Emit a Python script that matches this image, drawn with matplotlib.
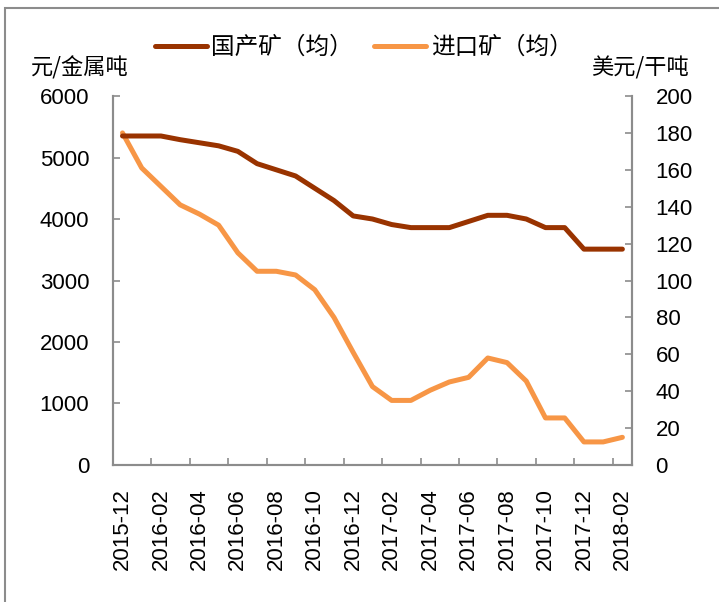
import matplotlib.pyplot as plt
from matplotlib.patches import Rectangle
import numpy as np

plt.rcParams['font.family'] = ['Liberation Sans', 'Noto Sans CJK SC', 'DejaVu Sans']

months = ["2015-12", "2016-01", "2016-02", "2016-03", "2016-04", "2016-05", "2016-06",
          "2016-07", "2016-08", "2016-09", "2016-10", "2016-11", "2016-12", "2017-01",
          "2017-02", "2017-03", "2017-04", "2017-05", "2017-06", "2017-07", "2017-08",
          "2017-09", "2017-10", "2017-11", "2017-12", "2018-01", "2018-02"]
# 国产矿（均）, 元/金属吨
domestic = [5350, 5350, 5350, 5290, 5240, 5190, 5100, 4900, 4800, 4700, 4500, 4300, 4050,
            4000, 3910, 3860, 3860, 3860, 3960, 4060, 4060, 4000, 3860, 3860, 3510, 3510, 3510]
# 进口矿（均）, 美元/干吨
imported = [180, 161, 151, 141, 136, 130, 115, 105, 105, 103, 95, 80, 61,
            42.5, 35, 35, 40.5, 45, 47.5, 58, 55.5, 45.5, 25.5, 25.5, 12.5, 12.5, 15]

c_dom = '#993300'
c_imp = '#F79646'
grey = '#8c8c8c'
cjk = ['Noto Sans CJK SC', 'DejaVu Sans']

fig = plt.figure(figsize=(7.19, 6.02), dpi=100)
ax = fig.add_axes([0.157, 0.2276, 0.722, 0.6129])
ax2 = ax.twinx()

x = np.arange(len(months))
l1, = ax.plot(x, domestic, color=c_dom, lw=3.6, solid_capstyle='round', label='国产矿（均）')
l2, = ax2.plot(x, imported, color=c_imp, lw=3.6, solid_capstyle='round', label='进口矿（均）')
ax2.set_zorder(ax.get_zorder() - 1)
ax.patch.set_visible(False)

ax.set_xlim(-0.5, len(months) - 0.5)
ax.set_ylim(0, 6000)
ax2.set_ylim(0, 200)
ax.set_yticks(np.arange(0, 6001, 1000))
ax2.set_yticks(np.arange(0, 201, 20))

ax.set_xticks(x[::2])
ax.set_xticklabels(months[::2], rotation=90)
ax.set_xticks(np.arange(-0.5, len(months), 2), minor=True)
ax.tick_params(axis='x', which='major', length=0, pad=17, labelsize=16)
ax.tick_params(axis='x', which='minor', direction='in', length=5, color=grey, width=1.2)
ax.tick_params(axis='y', direction='in', length=5, color=grey, width=1.2, pad=17, labelsize=16)
ax2.tick_params(axis='y', direction='in', length=5, color=grey, width=1.2, pad=17, labelsize=16)

for a in (ax, ax2):
    a.spines['top'].set_visible(False)
    for s in ('left', 'right', 'bottom'):
        a.spines[s].set_color(grey)
        a.spines[s].set_linewidth(1.5)

fig.text(0.111, 0.887, '元/金属吨', ha='center', va='center', fontsize=16, family=cjk)
fig.text(0.89, 0.887, '美元/干吨', ha='center', va='center', fontsize=16, family=cjk)

fig.legend(handles=[l1, l2], loc='center', bbox_to_anchor=(0.506, 0.921), ncol=2,
           frameon=False, handlelength=2.2, handletextpad=0.2, columnspacing=0.9,
           prop={'family': cjk, 'size': 17})

fig.patches.append(Rectangle((0.007, -0.01), 1.1, 0.997, transform=fig.transFigure,
                             fill=False, edgecolor=grey, lw=1.5))

fig.savefig('out.png', dpi=100)
